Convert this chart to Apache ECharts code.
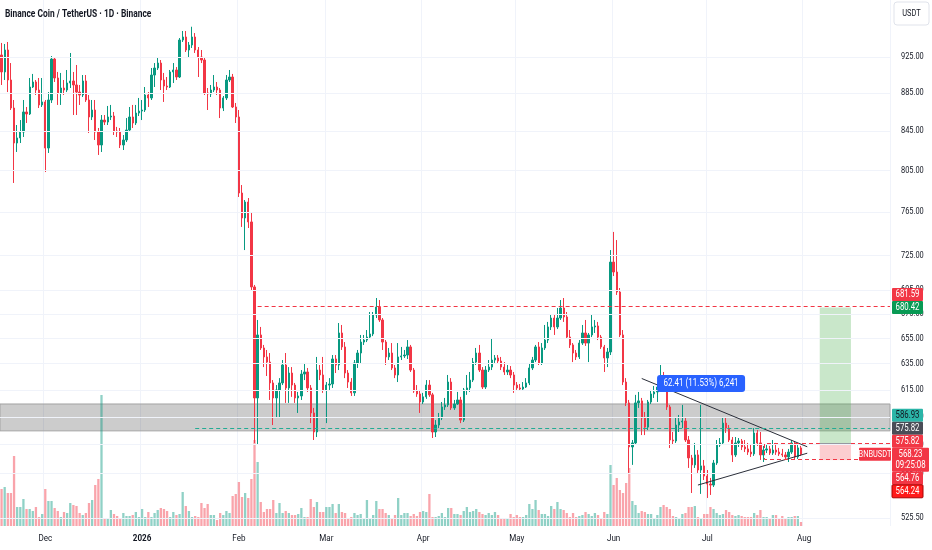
<!DOCTYPE html>
<html><head><meta charset="utf-8">
<script src="https://cdn.jsdelivr.net/npm/echarts@6/dist/echarts.min.js"></script>
<style>html,body{margin:0;padding:0;background:#fff}#c{width:932px;height:550px}</style>
</head><body><div id="c"></div>
<script>
const FONT = "Roboto, 'Liberation Sans', sans-serif";
const SQUEEZE = 0.78;
const TITLE = 'Binance Coin / TetherUS · 1D · Binance';
const START_DATE = '2025-11-17';
const N_CATS = 285;
const MONTHS = ['Jan','Feb','Mar','Apr','May','Jun','Jul','Aug','Sep','Oct','Nov','Dec'];
const PRICE_TICKS = [925,885,845,805,765,725,695,675,655,635,615,595,575,555,525.5];
const ZONE = [584.8, 604.4];
const LEVELS = [ {v:681.59, from:82, color:'#f23645'}, {v:586.93, from:62, color:'#22ab94'} ];
const RANGE_BOX = {top:575.82, bottom:564.76, from:244};
const LONG = {target:680.42, entry:575.82, stop:564.24, from:262, to:272};
const TRENDLINES = [ [205,623.6,258,573.5], [223,547.2,258,569.0] ];
const MEASURE = {idx:224, text:'62.41 (11.53%) 6,241'};
const TAGS = [
  {v:681.59, t:'681.59', bg:'#f23645', fg:'#fff'},
  {v:680.42, t:'680.42', bg:'#089a54', fg:'#fff'},
  {v:586.93, t:'586.93', bg:'#2bb5a8', fg:'#131722'},
  {v:575.82, t:'575.82', bg:'#4a4d57', fg:'#fff'},
  {v:575.82, t:'575.82', bg:'#f23645', fg:'#fff'},
  {v:568.23, t:'568.23', sub:'09:25:08', bg:'#f23645', fg:'#fff', anchor:true, sym:'BNBUSDT'},
  {v:564.76, t:'564.76', bg:'#f23645', fg:'#fff'},
  {v:564.24, t:'564.24', bg:'#ff1a1a', fg:'#fff', border:'#a80000'}
];

// [open, close, low, high]
const candles = [
[927.3,908.2,893.8,941.1],[908.2,933.0,899.3,939.9],[933.0,899.3,886.1,942.2],[899.3,868.9,866.8,918.2],[868.9,832.4,792.6,877.5],
[832.4,837.6,823.3,851.0],[837.6,843.7,832.4,856.2],[843.7,864.7,838.6,877.5],[864.7,862.6,853.1,870.0],[862.6,891.6,861.5,901.5],
[891.6,897.1,890.5,906.0],[897.1,888.3,882.9,899.3],[888.3,872.2,868.9,901.5],[872.2,875.4,870.0,901.5],[875.4,827.3,803.3,877.5],
[827.3,877.5,822.3,886.1],[877.5,922.7,874.3,926.1],[922.7,901.5,897.1,925.0],[901.5,885.1,872.2,908.2],[885.1,890.5,872.2,907.1],
[890.5,888.3,882.9,899.3],[888.3,896.0,886.1,910.4],[896.0,898.2,890.5,929.6],[898.2,893.8,861.5,908.2],[893.8,886.1,861.5,916.0],
[886.1,882.9,872.2,893.8],[882.9,898.2,880.7,904.8],[898.2,877.5,875.4,904.8],[877.5,859.4,842.7,882.9],[859.4,866.8,856.2,877.5],
[866.8,843.7,835.5,877.5],[843.7,830.4,820.3,847.9],[830.4,856.2,823.3,861.5],[856.2,854.1,851.0,861.5],[854.1,859.4,851.0,871.1],
[859.4,860.4,856.2,872.2],[860.4,844.8,840.6,864.7],[844.8,843.7,838.6,849.0],[843.7,830.4,827.3,847.9],[830.4,835.5,825.3,840.6],
[835.5,845.8,833.4,858.3],
[845.8,859.4,844.8,870.0],[859.4,853.1,847.9,872.2],[853.1,863.6,851.0,872.2],[863.6,865.7,860.4,879.7],[865.7,866.8,856.2,877.5],
[866.8,882.9,864.7,891.6],[882.9,879.7,870.0,886.1],[879.7,904.8,877.5,912.6],[904.8,912.6,891.6,918.2],[912.6,918.2,910.4,925.0],
[918.2,899.3,888.3,921.6],[899.3,892.7,875.4,907.1],[892.7,891.6,888.3,902.6],[891.6,908.2,890.5,910.4],[908.2,910.4,896.0,918.2],
[910.4,902.6,899.3,913.7],[902.6,944.5,901.5,946.8],[944.5,948.0,942.2,955.0],[948.0,933.0,930.7,955.0],[933.0,938.7,925.0,942.2],
[938.7,948.0,935.3,960.0],[948.0,933.0,929.6,952.6],[933.0,925.0,902.6,936.4],[925.0,921.6,918.2,933.0],[921.6,885.1,882.9,923.9],
[885.1,884.0,866.8,890.5],[884.0,888.3,880.7,893.8],[888.3,891.6,886.1,904.8],[891.6,888.3,882.9,897.1],[888.3,868.9,858.3,890.5],
[868.9,879.7,865.7,881.8],[879.7,899.3,877.5,904.8],[899.3,902.6,897.1,910.4],[902.6,870.0,868.9,906.0],[870.0,859.4,853.1,874.3],
[859.4,782.9,779.1,866.8],
[782.9,759.3,751.0,790.6],[759.3,774.3,730.0,776.2],[774.3,755.6,750.0,778.1],[755.6,697.7,695.1,764.8],[697.7,608.9,576.2,699.4],
[608.9,657.8,574.8,670.0],[657.8,647.4,645.8,664.3],[647.4,640.3,632.4,649.8],[640.3,636.3,625.5,645.8],[636.3,620.2,607.4,643.4],
[620.2,608.9,589.0,622.4],[608.9,614.9,594.8,618.6],[614.9,620.2,594.8,623.9],[620.2,634.0,618.6,637.9],[634.0,616.4,605.2,643.4],
[616.4,627.8,605.2,632.4],[627.8,618.6,609.7,632.4],[618.6,608.9,605.2,620.2],[608.9,610.4,597.8,613.4],[610.4,627.0,607.4,630.1],
[627.0,628.6,622.4,635.6],[628.6,616.4,613.4,631.7],[616.4,597.8,590.4,618.6],[597.8,584.0,578.3,601.5],[584.0,630.1,580.4,640.3],
[630.1,626.3,622.4,634.0],[626.3,614.9,612.7,640.3],[614.9,618.6,590.4,620.9],[618.6,619.4,614.9,623.9],[619.4,638.7,616.4,641.8],
[638.7,634.0,627.8,641.8],[634.0,659.4,630.1,667.5],
[659.4,648.2,645.8,665.9],[648.2,627.8,623.9,652.1],[627.8,620.9,616.4,630.1],[620.9,612.7,610.4,623.9],[612.7,635.6,610.4,637.9],
[635.6,643.4,631.7,645.8],[643.4,652.1,635.6,657.8],[652.1,653.7,649.8,657.8],[653.7,656.1,652.1,661.8],[656.1,658.6,654.5,676.6],
[658.6,674.1,656.9,676.6],[674.1,680.7,671.6,688.3],[680.7,670.0,668.4,686.6],[670.0,652.1,645.8,671.6],[652.1,640.3,634.0,653.7],
[640.3,643.4,637.9,647.4],[643.4,631.7,630.1,651.3],[631.7,626.3,623.9,634.0],[626.3,640.3,620.9,651.3],[640.3,641.1,637.9,648.2],
[641.1,641.8,639.5,645.8],[641.8,648.2,638.7,653.7],[648.2,630.1,628.6,649.8],[630.1,614.1,612.7,631.7],[614.1,611.9,609.7,618.6],
[611.9,605.9,597.8,614.9],[605.9,609.7,604.4,612.7],[609.7,618.6,608.2,622.4],[618.6,611.2,609.7,622.4],[611.2,584.0,579.7,612.7],
[584.0,589.0,580.4,592.6],[589.0,594.1,586.8,597.8],[594.1,602.2,592.6,605.9],[602.2,603.7,600.0,608.9],[603.7,620.9,602.2,626.3],
[620.9,601.5,600.0,623.9],
[601.5,604.4,600.0,607.4],[604.4,607.4,603.7,613.4],[607.4,592.6,590.4,609.7],[592.6,614.9,591.2,616.4],[614.9,616.4,611.2,626.3],
[616.4,622.4,613.4,628.6],[622.4,636.3,620.9,639.5],[636.3,643.4,634.0,647.4],[643.4,630.1,628.6,649.8],[630.1,617.1,615.6,632.4],
[617.1,630.1,615.6,633.2],[630.1,632.4,628.6,637.9],[632.4,637.9,630.1,655.3],[637.9,639.5,635.6,641.8],[639.5,637.1,634.8,641.8],
[637.1,632.4,630.1,640.3],[632.4,628.6,626.3,636.3],[628.6,630.1,626.3,634.0],[630.1,626.3,623.9,633.2],[626.3,618.6,612.7,628.6],
[618.6,616.4,614.9,620.9],[616.4,615.6,614.1,619.4],[615.6,617.1,614.9,620.9],[617.1,620.2,616.4,623.9],[620.2,631.7,618.6,635.6],
[631.7,637.9,630.1,640.3],[637.9,648.2,636.3,649.8],[648.2,635.6,634.0,652.1],[635.6,647.4,634.0,651.3],[647.4,653.7,645.8,665.9],
[653.7,664.3,651.3,668.4],[664.3,671.6,661.8,674.1],[671.6,664.3,657.8,674.1],[664.3,671.6,662.6,679.9],[671.6,679.9,670.0,686.6],
[679.9,672.5,668.4,688.3],[672.5,656.1,655.3,676.6],[656.1,649.8,647.4,661.8],
[649.8,643.4,636.3,651.3],[643.4,640.3,637.9,645.8],[640.3,651.3,638.7,653.7],[651.3,659.4,649.8,665.9],[659.4,651.3,649.0,670.0],
[651.3,657.8,636.3,659.4],[657.8,664.3,656.1,674.1],[664.3,665.1,659.4,670.0],[665.1,656.1,653.7,668.4],[656.1,648.2,646.6,657.8],
[648.2,639.5,628.6,649.8],[639.5,644.2,632.4,647.4],[644.2,719.3,641.8,730.0],[719.3,710.6,707.1,746.4],[710.6,693.4,690.9,739.0],
[693.4,657.8,656.1,696.8],[657.8,620.9,618.6,661.8],[620.9,605.2,602.9,623.9],[605.2,573.4,555.4,607.4],[573.4,576.2,560.9,578.3],
[576.2,605.2,574.8,611.2],[605.2,606.7,601.5,613.4],[606.7,594.1,581.8,608.9],[594.1,587.5,581.8,598.5],[587.5,605.9,585.4,607.4],
[605.9,611.9,604.4,614.9],[611.9,613.4,608.9,617.9],[613.4,617.1,605.9,619.4],[617.1,624.7,615.6,634.0],[624.7,618.6,616.4,628.6],
[618.6,602.2,600.0,622.4],[602.2,578.3,572.6,603.7],[578.3,577.6,574.8,584.0],[577.6,589.0,576.2,594.8],[589.0,591.2,584.0,596.3],
[591.2,591.9,586.8,603.7],[591.9,578.3,576.9,594.1],[578.3,565.7,558.8,581.1],[565.7,560.9,541.9,567.8],[560.9,567.8,558.8,576.2],
[567.8,557.4,555.4,571.2],[557.4,560.2,541.3,603.7],[560.2,553.3,550.6,564.3],[553.3,547.9,538.6,557.4],[547.9,547.2,540.6,552.0],
[547.2,562.2,545.9,564.3],[562.2,574.8,560.9,578.3],[574.8,576.2,573.4,579.7],[576.2,590.4,574.8,594.1],[590.4,586.8,583.3,594.1],
[586.8,578.3,576.9,589.0],[578.3,567.8,562.9,580.4],[567.8,576.2,566.4,580.4],[576.2,577.6,573.4,579.7],[577.6,573.4,571.2,579.0],
[573.4,572.0,569.8,578.3],[572.0,569.8,567.8,576.2],[569.8,568.5,566.4,574.8],[568.5,583.3,567.1,586.8],[583.3,576.2,574.1,585.4],
[576.2,567.8,564.3,584.0],[567.8,571.2,562.9,574.1],[571.2,572.0,569.1,574.8],[572.0,569.1,567.8,574.1],[569.1,571.2,567.8,578.3],
[571.2,569.8,567.8,576.2],[569.8,568.5,567.1,572.7],[568.5,567.8,566.4,572.0],[567.8,566.4,564.3,569.8],[566.4,569.8,562.9,572.0],
[569.8,576.2,568.5,578.3],[576.2,566.4,565.0,577.6],[566.4,572.7,565.0,574.8],[572.7,568.23,567.1,574.1]
];

// volume (x10K BNB)
const volumes = [
37,39,33,33,70,19,19,27,17,17, 15,19,9,12,37,25,25,18,15,9, 14,13,23,21,20,13,11,13,23,26,
41,47,131,7,8,16,12,10,8,13, 10,10,11,14,9,17,9,14,9,13, 16,18,17,15,9,14,11,12,34,20,
15,9,10,9,23,18,22,11,11,6, 13,11,15,13,30,32,44,29,33,28, 47,86,64,24,14,17,17,26,13,23,
13,15,13,11,11,12,18,9,9,27, 19,24,14,14,19,19,22,13,22,14, 13,8,9,13,11,12,8,26,7,11,
25,17,17,13,11,8,11,28,11,13,
13,10,12,10,14,15,14,32,9,9, 10,13,9,18,18,12,12,11,15,19, 14,15,17,14,12,11,13,11,14,11,
8,8,7,12,9,11,9,9,11, 22,17,26,16,12,12,10,20,17,24, 17,16,13,9,13,9,10,11,14,12, 10,13,11,8,14,12,
61,41,48,36,33,43,58,25,21,13, 15,14,12,12,8,11,19,21,19,17, 10,9,8,12,13,19,19,20,9,8,
12,12,19,17,13,11,12,16,14,11, 10,11,10,9,9,9,13,11,16,9, 9,8,11,11,8,10,8,9,9,10, 10,4
];

const UP = '#089981', DOWN = '#f23645';
const GRID_RIGHT = 42, GRID_BOTTOM = 24;

const t0 = Date.parse(START_DATE + 'T00:00:00Z');
const categories = Array.from({length:N_CATS}, (_, i) => new Date(t0 + i*86400000).toISOString().slice(0,10));
const isMonthStart = (i, v) => v.slice(8) === '01';

const chart = echarts.init(document.getElementById('c'), null, {renderer:'canvas'});
const maxVol = Math.max(...volumes);

const option = {
  animation: false,
  backgroundColor: '#ffffff',
  grid: { left: 0, right: GRID_RIGHT, top: 0, bottom: GRID_BOTTOM },
  xAxis: {
    type: 'category', data: categories, boundaryGap: true,
    axisLine: {show: false}, axisTick: {show: false}, axisLabel: {show: false},
    splitLine: { show: true, interval: isMonthStart, lineStyle: {color: '#f0f3fa', width: 1} }
  },
  yAxis: [
    { type: 'log', logBase: 10, min: 520.4, max: 992, position: 'right',
      axisLine: {show: false}, axisTick: {show: false}, axisLabel: {show: false}, splitLine: {show: false} },
    { type: 'value', min: 0, max: maxVol * 4.015, show: false }
  ],
  series: [
    { type: 'line', name: 'grid', data: candles.map(c => c[1]), showSymbol: false, silent: true, z: 0,
      lineStyle: {opacity: 0}, emphasis: {disabled: true},
      markLine: { silent: true, symbol: ['none','none'], label: {show: false},
        lineStyle: {color: '#f0f3fa', width: 1, type: 'solid'},
        data: PRICE_TICKS.map(v => ({yAxis: v})) } },
    { type: 'bar', name: 'Volume', xAxisIndex: 0, yAxisIndex: 1, barWidth: 2.3, silent: true, z: 1,
      emphasis: {disabled: true},
      data: volumes.map((v, i) => ({ value: v, itemStyle: { color: candles[i][1] >= candles[i][0] ? 'rgba(8,153,129,0.45)' : 'rgba(242,54,69,0.45)' } })) },
    { type: 'candlestick', name: 'BNBUSDT', data: candles, barWidth: 1.8, z: 3, silent: true,
      emphasis: {disabled: true},
      itemStyle: { color: UP, color0: DOWN, borderColor: UP, borderColor0: DOWN, borderWidth: 1 },
      markArea: { silent: true, label: {show: false}, data: [
        [ {yAxis: ZONE[1], itemStyle: {color: 'rgba(0,0,0,0.2)', borderColor: '#a3a3a3', borderWidth: 1}}, {yAxis: ZONE[0]} ],
        [ {xAxis: categories[LONG.from], yAxis: LONG.target, itemStyle: {color: 'rgba(76,175,80,0.3)'}}, {xAxis: categories[LONG.to], yAxis: LONG.entry} ],
        [ {xAxis: categories[LONG.from], yAxis: LONG.entry, itemStyle: {color: 'rgba(242,54,69,0.25)'}}, {xAxis: categories[LONG.to], yAxis: LONG.stop} ]
      ] },
      markLine: { silent: true, symbol: ['none','none'], label: {show: false},
        lineStyle: {color: '#2a2e39', width: 1, type: 'solid'},
        data: TRENDLINES.map(t => [ {coord: [categories[t[0]], t[1]]}, {coord: [categories[t[2]], t[3]]} ]) } }
  ]
};
chart.setOption(option);

const yPx = v => chart.convertToPixel({yAxisIndex: 0}, v);
const xPx = i => chart.convertToPixel({xAxisIndex: 0}, categories[i]);
const plotRight = chart.getWidth() - GRID_RIGHT;
const plotBottom = chart.getHeight() - GRID_BOTTOM;
const g = [];
const txt = (x, y, text, o) => ({type: 'text', silent: true, z: o.z || 80, x: x, y: y, scaleX: o.sx || SQUEEZE,
  style: {text: text, fill: o.fill || '#131722', fontSize: o.size || 9, fontWeight: o.weight || 'normal', fontFamily: FONT,
    align: o.align || 'left', verticalAlign: 'middle'}});

// title
g.push(txt(5, 14.5, TITLE, {size: 10.5, weight: 'bold', sx: 0.8}));

// month labels on the time axis
categories.forEach((c, i) => {
  if (!isMonthStart(i, c)) return;
  const m = +c.slice(5,7) - 1;
  g.push(txt(xPx(i), plotBottom + 12.5, m === 0 ? c.slice(0,4) : MONTHS[m],
    {size: 9.5, weight: m === 0 ? 'bold' : 'normal', align: 'center', sx: 0.85}));
});

LEVELS.forEach(l => {
  const y = Math.round(yPx(l.v)) + 0.5;
  g.push({type: 'line', silent: true, z: 50, shape: {x1: xPx(l.from), y1: y, x2: plotRight, y2: y},
    style: {stroke: l.color, lineWidth: 1, lineDash: [4, 3]}});
});
{
  const y1 = Math.round(yPx(RANGE_BOX.top)) + 0.5, y2 = Math.round(yPx(RANGE_BOX.bottom)) + 0.5, x1 = Math.round(xPx(RANGE_BOX.from)) + 0.5;
  g.push({type: 'polyline', silent: true, z: 50, shape: {points: [[plotRight, y1], [x1, y1], [x1, y2], [plotRight, y2]]},
    style: {stroke: '#f23645', fill: null, lineWidth: 1, lineDash: [4, 3]}});
}
{
  const y = Math.round(yPx(LONG.entry)) + 0.5;
  g.push({type: 'line', silent: true, z: 50, shape: {x1: xPx(LONG.from), y1: y, x2: xPx(LONG.to), y2: y},
    style: {stroke: '#9598a1', lineWidth: 1}});
}
// measurement label
{
  const c = candles[MEASURE.idx];
  const cx = xPx(MEASURE.idx), yTop = yPx(c[3]);
  const w = 88, h = 17;
  g.push({type: 'rect', silent: true, z: 70, shape: {x: cx - w/2, y: yTop - 13 - h, width: w, height: h, r: 3}, style: {fill: '#2962ff'}});
  g.push(txt(cx, yTop - 13 - h/2, MEASURE.text, {fill: '#ffffff', size: 10, align: 'center', z: 71, sx: 0.8}));
}
// price axis labels
PRICE_TICKS.forEach(v => g.push(txt(plotRight + 11, yPx(v), v.toFixed(2), {size: 9.5})));
// USDT box
g.push({type: 'rect', silent: true, z: 80, shape: {x: plotRight + 4, y: 2, width: 35, height: 23, r: 3}, style: {fill: '#fff', stroke: '#e0e3eb', lineWidth: 1}});
g.push(txt(plotRight + 21.5, 13.5, 'USDT', {size: 9.5, align: 'center', z: 81}));

// price tags, stacked like the platform does
{
  const H = 13, H2 = 24;
  const items = TAGS.map(t => ({...t, y: yPx(t.v), h: t.sub ? H2 : H}));
  const a = items.findIndex(t => t.anchor);
  items[a].top = items[a].y - H/2;
  for (let i = a + 1; i < items.length; i++) items[i].top = Math.max(items[i].y - H/2, items[i-1].top + items[i-1].h);
  for (let i = a - 1; i >= 0; i--) { const bot = Math.min(items[i].y - H/2 + items[i].h, items[i+1].top); items[i].top = bot - items[i].h; }
  items.forEach(t => {
    const w = t.sub ? 37 : 31, x = plotRight + 2;
    g.push({type: 'rect', silent: true, z: 90, shape: {x: x, y: t.top, width: w, height: t.h, r: 1},
      style: {fill: t.bg, stroke: t.border || null, lineWidth: t.border ? 1 : 0}});
    g.push(txt(x + w/2, t.top + H/2, t.t, {fill: t.fg, size: 10, align: 'center', z: 91}));
    if (t.sub) g.push(txt(x + w/2, t.top + H/2 + 11, t.sub, {fill: t.fg, size: 10, align: 'center', z: 91}));
    if (t.sym) {
      g.push({type: 'rect', silent: true, z: 90, shape: {x: plotRight - 31, y: t.top, width: 32, height: H, r: 1}, style: {fill: t.bg}});
      g.push(txt(plotRight - 15, t.top + H/2, t.sym, {fill: t.fg, size: 9.5, align: 'center', z: 91}));
    }
  });
}
chart.setOption({graphic: g});
</script></body></html>
